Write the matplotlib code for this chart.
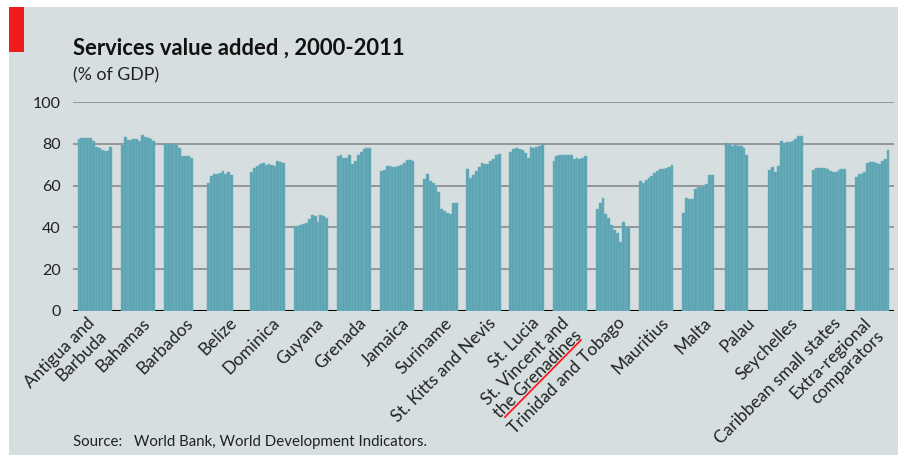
import matplotlib.pyplot as plt
from matplotlib.patches import Rectangle
from matplotlib.lines import Line2D

plt.rcParams['font.family'] = ['Lato', 'DejaVu Sans']

# Services value added (% of GDP), 2000-2011, bars
countries = [
    'Antigua and\nBarbuda', 'Bahamas', 'Barbados', 'Belize', 'Dominica',
    'Guyana', 'Grenada', 'Jamaica', 'Suriname', 'St. Kitts and Nevis',
    'St. Lucia', 'St. Vincent and\nthe Grenadines', 'Trinidad and Tobago',
    'Mauritius', 'Malta', 'Palau', 'Seychelles', 'Caribbean small states',
    'Extra-regional\ncomparators',
]
antigua = [82.5, 83, 83, 83, 83, 81.5, 78.5, 78, 77, 76.5, 76.5, 78.5]
bahamas = [79.5, 83.5, 82, 82, 82.5, 82.5, 81.5, 84.5, 83.5, 83, 82.5, 81.5]
barbados = [80, 80, 80, 80, 79.5, 78, 74, 74, 74, 73.5]
belize = [61.5, 64.5, 65.5, 65.5, 66, 67, 65.5, 66.5, 65]
dominica = [66.5, 68.5, 69.5, 70.5, 71, 70, 70.5, 70, 69.5, 72, 71.5, 71]
guyana = [40.5, 40.5, 41, 41.5, 42, 44, 46, 45.5, 42.5, 46, 45.5, 44.5]
grenada = [74, 74.5, 73.5, 73.5, 74.5, 70.5, 72, 74.5, 76, 77.5, 78, 78]
jamaica = [67, 67.5, 69.5, 69.5, 69, 69, 69.5, 70, 71, 72.5, 72.5, 72]
suriname = [63, 65.5, 62, 61.5, 60, 57, 49, 48, 47, 46.5, 51.5, 51.5]
st_kitts = [68, 63.5, 65, 67, 69, 71, 70.5, 70.5, 72, 73, 74.5, 75]
st_lucia = [76, 77.5, 78, 77.5, 77, 75.5, 73.5, 78.5, 78, 78.5, 79, 80]
st_vincent = [72, 74, 74.5, 74.5, 74.5, 74.5, 74.5, 73, 73.5, 73, 73.5, 74]
trinidad = [49, 51.5, 54, 46.5, 44.5, 41, 38.5, 37.5, 33, 42.5, 40, 40]
mauritius = [62, 61.5, 62.5, 63.5, 64.5, 66, 67, 68, 68, 68.5, 69, 70]
malta = [47, 54, 53.5, 53.5, 58.5, 59.5, 59.5, 60, 61, 65, 65]
palau = [80.5, 80, 79, 79.5, 79, 79, 78, 74.5]
seychelles = [67.5, 69, 66.5, 69.5, 81.5, 80.5, 81, 81, 81.5, 82.5, 84, 84]
caribbean = [67.5, 68.5, 68.5, 68.5, 68.5, 68, 67, 66.5, 66.5, 67.5, 68, 68]
extra = [64, 65.5, 65.5, 66.5, 71, 71.5, 71.5, 71, 70.5, 72, 73, 77]

values = [antigua, bahamas, barbados, belize, dominica, guyana, grenada,
          jamaica, suriname, st_kitts, st_lucia, st_vincent, trinidad,
          mauritius, malta, palau, seychelles, caribbean, extra]

bar_color = '#5ba3b2'
bg = '#d6dee0'
slot = 15  # 12 years + gap

fig = plt.figure(figsize=(9.04, 4.55), dpi=100)
fig.patch.set_facecolor('white')
fig.patches.append(Rectangle((9 / 904, 0), 889 / 904, 448 / 455,
                             transform=fig.transFigure, facecolor=bg,
                             edgecolor='none', zorder=-2))
fig.patches.append(Rectangle((9 / 904, 1 - 52 / 455), 15 / 904, 45 / 455,
                             transform=fig.transFigure, facecolor='#ee1c1c',
                             edgecolor='none', zorder=-1))

ax = fig.add_axes([73 / 904, 1 - 310.7 / 455, 821 / 904, 208.4 / 455])
ax.set_zorder(5)
ax.set_facecolor('none')

for g, vals in enumerate(values):
    xs = [g * slot + j for j in range(len(vals))]
    ax.bar(xs, vals, width=1.0, color=bar_color, edgecolor='#79b5c2',
           linewidth=0.35, zorder=3)

ax.set_xlim(-2.1, 18 * slot + 11 + 2.1)
ax.set_ylim(0, 100)
ax.set_yticks([0, 20, 40, 60, 80, 100])
ax.set_axisbelow(True)
ax.yaxis.grid(True, color='#7f8385', linewidth=1.1)
ax.axhline(0, color='black', linewidth=2.2, zorder=2)
for s in ax.spines.values():
    s.set_visible(False)
ax.tick_params(axis='y', length=0, pad=9, labelsize=11.5, labelcolor='#222222')
ax.tick_params(axis='x', length=0, pad=3)

ax.set_xticks([g * slot + 10.8 for g in range(len(countries))])
ax.set_xticklabels(countries, rotation=45, ha='right', va='top',
                   fontsize=12.5, color='#222222',
                   multialignment='right', linespacing=1.15)

fig.text(73 / 904, 1 - 55 / 455, 'Services value added , 2000-2011',
         fontsize=15.8, fontweight='bold', color='#111111', va='baseline')
fig.text(73 / 904, 1 - 80 / 455, '(% of GDP)', fontsize=12.8,
         color='#222222', va='baseline')
fig.text(73 / 904, 1 - 446 / 455,
         'Source:   World Bank, World Development Indicators.',
         fontsize=10.8, color='#222222', va='baseline')

# red underline seen under "the Grenadines"
fig.lines.append(Line2D([505 / 904, 581 / 904], [1 - 417 / 455, 1 - 340 / 455],
                        transform=fig.transFigure, color='#ff1a1a',
                        linewidth=1.3, zorder=10))

fig.savefig('out.png', dpi=100, facecolor=fig.get_facecolor())
